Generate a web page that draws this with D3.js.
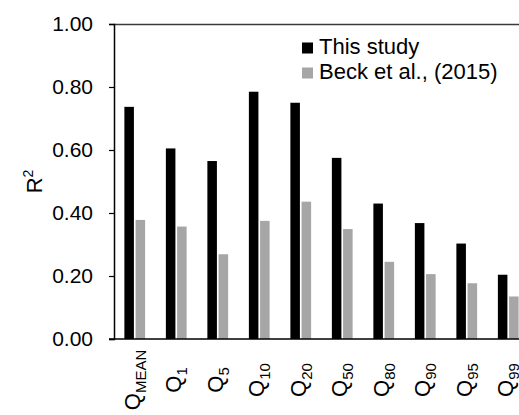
<!DOCTYPE html>
<html>
<head>
<meta charset="utf-8">
<script src="https://cdn.jsdelivr.net/npm/d3@7"></script>
<style>
  body { margin: 0; background: #fff; }
  svg { display: block; font-family: "Liberation Sans", Arial, sans-serif; }
</style>
</head>
<body>
<div id="chart"></div>
<script>
const categories = ["MEAN", "1", "5", "10", "20", "50", "80", "90", "95", "99"];
const series = ["This study", "Beck et al., (2015)"];
const thisStudy = [0.737, 0.605, 0.565, 0.785, 0.750, 0.575, 0.430, 0.368, 0.303, 0.204];
const beck = [0.378, 0.357, 0.269, 0.375, 0.436, 0.349, 0.245, 0.206, 0.177, 0.135];
const yTicks = [0, 0.2, 0.4, 0.6, 0.8, 1.0];

const width = 519, height = 415,
  margin = {top: 24, right: -10, bottom: 76, left: 114};

const colors = ["#000000", "#a6a6a6"];

const data = categories.map((c, i) => ({cat: c, values: [thisStudy[i], beck[i]]}));

const svg = d3.select("#chart")
  .append("svg")
  .attr("width", width)
  .attr("height", height);

let x = d3.scaleBand(categories, [margin.left, width - margin.right])
  .paddingInner(0.5)
  .paddingOuter(0.25);

let x1 = d3.scaleBand(series, [0, x.bandwidth()])
  .paddingInner(0.15);

let y = d3.scaleLinear([0, 1], [height - margin.bottom, margin.top]);

// bars
svg.append("g")
  .selectAll("g")
  .data(data)
  .join("g")
  .attr("transform", d => `translate(${x(d.cat)},0)`)
  .selectAll("rect")
  .data(d => d.values)
  .join("rect")
  .attr("x", (d, i) => x1(series[i]))
  .attr("y", d => y(d))
  .attr("width", x1.bandwidth())
  .attr("height", d => y(0) - y(d))
  .attr("fill", (d, i) => colors[i]);

// top border
svg.append("line")
  .attr("x1", margin.left).attr("x2", width)
  .attr("y1", y(1) + 0.5).attr("y2", y(1) + 0.5)
  .attr("stroke", "#3a3a3a")
  .attr("stroke-width", 1.5);

// bottom axis line
svg.append("line")
  .attr("x1", margin.left - 5).attr("x2", width)
  .attr("y1", y(0)).attr("y2", y(0))
  .attr("stroke", "#000")
  .attr("stroke-width", 1.5);

// y axis
const yAxis = svg.append("g")
  .attr("transform", `translate(${margin.left},0)`)
  .call(d3.axisLeft(y).tickValues(yTicks).tickFormat(d3.format(".2f")).tickSize(5).tickPadding(16));
yAxis.select(".domain").attr("stroke", "#000").attr("stroke-width", 1.5);
yAxis.selectAll(".tick line").attr("stroke", "#000").attr("stroke-width", 1.2);
yAxis.selectAll("text")
  .attr("font-size", 21)
  .attr("font-family", "Liberation Sans, Arial, sans-serif")
  .attr("fill", "#000");

// y title
svg.append("text")
  .attr("transform", `translate(42,${(y(0) + y(1)) / 2}) rotate(-90)`)
  .attr("text-anchor", "middle")
  .attr("font-size", 22)
  .text("R")
  .append("tspan")
  .attr("dy", -9)
  .attr("font-size", 14)
  .text("2");

// x labels
svg.append("g")
  .selectAll("text")
  .data(categories)
  .join("text")
  .attr("transform", d => `translate(${x(d) + x.bandwidth() / 2 + 5},380) rotate(-90)`)
  .attr("text-anchor", "middle")
  .attr("font-size", 22)
  .each(function(d) {
    const t = d3.select(this);
    t.append("tspan").text("Q");
    t.append("tspan").attr("font-size", 15).attr("dy", 6).text(d);
  });

// legend
const legend = svg.selectAll(".legend-group")
  .data(series)
  .join("g")
  .attr("class", "legend-group")
  .attr("transform", (d, i) => `translate(302,${53.5 + i * 25})`);

legend.append("rect")
  .attr("x", 0)
  .attr("y", -11)
  .attr("width", 11)
  .attr("height", 11)
  .attr("fill", (d, i) => colors[i]);

legend.append("text")
  .attr("x", 17)
  .attr("y", 0)
  .attr("font-size", 22)
  .text(d => d);
</script>
</body>
</html>
